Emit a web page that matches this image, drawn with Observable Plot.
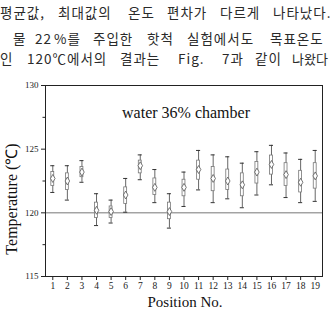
<!DOCTYPE html>
<html><head><meta charset="utf-8">
<script src="https://cdn.jsdelivr.net/npm/d3@7"></script>
<script src="https://cdn.jsdelivr.net/npm/@observablehq/plot@0.6"></script>
<style>
html,body{margin:0;padding:0;background:#fff;width:332px;height:310px;overflow:hidden;}
#wrap{position:relative;width:332px;height:310px;}
.kr{position:absolute;font-family:"Noto Sans CJK KR";font-size:13.5px;color:#2a2a2a;white-space:nowrap;line-height:1;letter-spacing:1px;}
.kr.tight{font-size:13px;letter-spacing:0;}
#chart{position:absolute;left:0;top:0;width:332px;height:310px;}
#chart svg{width:332px;height:310px;max-width:none;}
</style></head>
<body><div id="wrap"><div id="chart"></div></div>
<script>
// Text lines above the chart (word, left)
const line1 = [["평균값,",0],["최대값의",58],["온도",128],["편차가",167],["다르게",220],["나타났다.",273]];
const line2 = [["물",13],["22",35],["%를",54],["주입한",93],["핫척",147],["실험에서도",187],["목표온도",270]];
const line3 = [["인",0],["120℃에서의",27],["결과는",120],["Fig.",178],["7과",222],["같이",255],["나왔다",292]];

// Chart data
const positions = [1,2,3,4,5,6,7,8,9,10,11,12,13,14,15,16,17,18,19];
const minVals  = [121.6,121.0,122.4,119.0,119.2,120.05,122.6,120.8,118.8,120.5,121.8,120.8,121.1,120.4,121.4,122.2,121.2,120.8,120.9];
const q1Vals   = [122.1,121.8,122.8,119.6,119.6,120.7,123.1,121.4,119.5,121.3,122.6,121.7,121.8,121.3,122.3,123.0,122.1,121.6,121.9];
const meanVals = [122.7,122.5,123.2,120.2,120.1,121.4,123.7,122.0,120.1,122.0,123.4,122.7,122.5,122.2,123.2,123.8,123.0,122.4,122.9];
const q3Vals   = [123.2,123.1,123.6,120.8,120.5,122.0,124.1,122.7,120.8,122.6,124.1,123.6,123.4,123.1,124.0,124.5,123.9,123.3,123.9];
const maxVals  = [123.7,123.7,124.1,121.5,121.0,122.7,124.55,123.4,121.5,123.2,124.9,124.55,124.4,123.9,124.8,125.3,124.7,124.2,124.9];
const yTicks = [115,120,125,130];
const yMinorTicks = [117.5,122.5,127.5];
const targetTemp = 120;
const titleText = "water 36% chamber";
const xLabel = "Position No.";
const yLabel = "Temperature (℃)";

const wrap = document.getElementById("wrap");
[[line1,6],[line2,32],[line3,52]].forEach(([ln,top],li)=>{
  ln.forEach(([w,l],wi)=>{
    const s=document.createElement("div");
    s.className="kr" + (li===2 && wi===ln.length-1 ? " tight" : "");
    s.style.left=l+"px"; s.style.top=top+"px"; s.textContent=w;
    wrap.appendChild(s);
  });
});

const data = positions.map((p,i)=>({pos:p,min:minVals[i],q1:q1Vals[i],mean:meanVals[i],q3:q3Vals[i],max:maxVals[i]}));
const capW = 0.14, boxW = 0.1;
const ink = "#333";

const plot = Plot.plot({
  width: 332, height: 310,
  marginLeft: 45, marginRight: 10, marginTop: 85, marginBottom: 34,
  style: {fontFamily: "Liberation Serif", color: "#222", background: "transparent", overflow: "visible"},
  x: {domain: [0.5, 19.5], label: null, ticks: positions, tickSize: 4, tickFormat: d=>d},
  y: {domain: [115, 130], label: null, ticks: yTicks, tickSize: 4},
  marks: [
    Plot.ruleY([targetTemp], {stroke: "#777", strokeWidth: 1}),
    Plot.ruleX(data, {x: "pos", y1: "min", y2: "max", stroke: "#666", strokeWidth: 1}),
    Plot.ruleY(data, {y: "min", x1: d=>d.pos-capW, x2: d=>d.pos+capW, stroke: ink, strokeWidth: 1}),
    Plot.ruleY(data, {y: "max", x1: d=>d.pos-capW, x2: d=>d.pos+capW, stroke: ink, strokeWidth: 1}),
    Plot.rect(data, {x1: d=>d.pos-boxW, x2: d=>d.pos+boxW, y1: "q1", y2: "q3", fill: "#fff", stroke: "#777", strokeWidth: 0.8}),
    Plot.dot(data, {x: "pos", y: "mean", symbol: "diamond", r: 2.4, fill: "#fff", stroke: "#555", strokeWidth: 0.8}),
    Plot.frame({stroke: "#222", strokeWidth: 1}),
    Plot.axisY(yMinorTicks, {tickSize: 2.5, tickFormat: null, text: null, stroke: "#222"}),
    Plot.axisY({ticks: yTicks, tickSize: 4, fontSize: 9, tickPadding: 3, stroke: "#222"}),
    Plot.axisX({ticks: positions, tickSize: 4, fontSize: 9.5, tickPadding: 2, stroke: "#222"}),
    Plot.text([titleText], {frameAnchor: "top", lineAnchor: "middle", dy: 27, fontSize: 16, fill: "#111", dx: 2}),
    Plot.text([xLabel], {frameAnchor: "bottom", lineAnchor: "middle", dy: 26, fontSize: 15, fill: "#111", dx: 1}),
    Plot.text([yLabel], {frameAnchor: "left", textAnchor: "middle", lineAnchor: "middle", dx: -34, dy: 18, rotate: -90, fontSize: 16, fill: "#111"})
  ]
});
document.getElementById("chart").appendChild(plot);
</script></body></html>
